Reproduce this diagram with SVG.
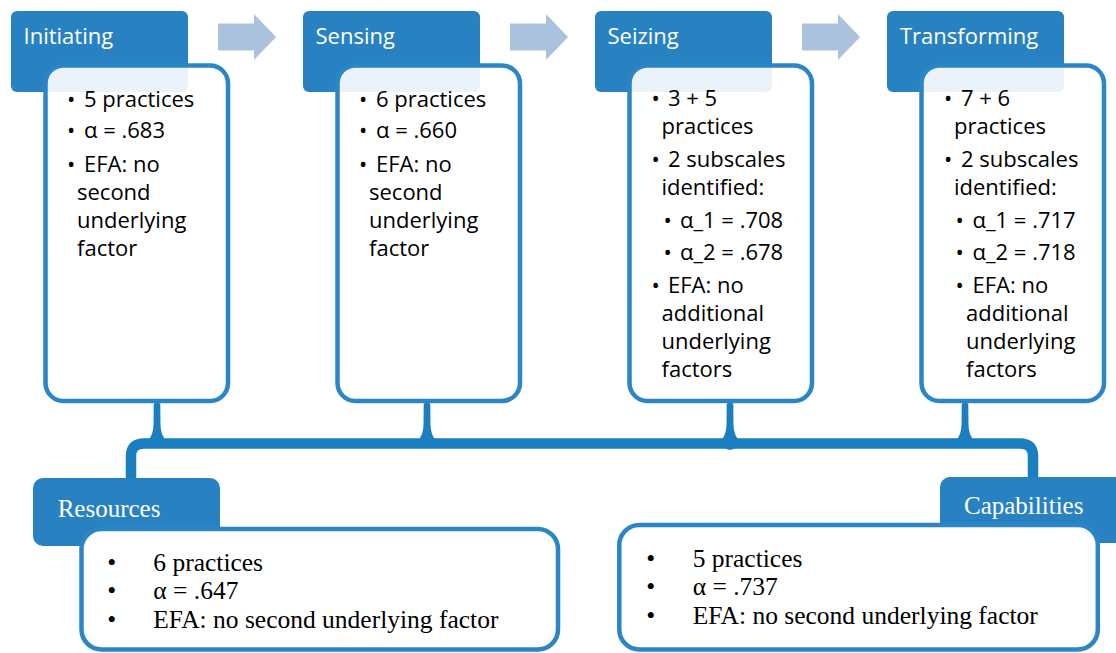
<svg xmlns="http://www.w3.org/2000/svg" width="1116" height="653" viewBox="0 0 1116 653">
<defs>
<style>
.hdr{fill:#2882c2}
.body{fill:#ffffff;fill-opacity:0.9;stroke:#2a86c6;stroke-width:4.5}
.bodyb{fill:#ffffff;stroke:#2a86c6;stroke-width:4.5}
.arrow{fill:#abc2de}
.ht{font-family:"Open Sans","Noto Sans",sans-serif;font-size:22px;fill:#ffffff}
.bt{font-family:"Open Sans","Noto Sans",sans-serif;font-size:22px;fill:#000000}
.st{font-family:"Liberation Serif","Times New Roman",serif;font-size:25.5px;fill:#000000}
.sh{font-family:"Liberation Serif","Times New Roman",serif;font-size:25px;fill:#ffffff}
.br{fill:none;stroke:#1a7ec1;stroke-width:10.5}
.stem{fill:#1a7ec1}
</style>
</defs>

<g id="connectors">
  <path class="arrow" d="M218,23.5 H254 V14 L276,37 L254,60 V50.5 H218 Z"/>
  <path class="arrow" d="M510,23.5 H546 V14 L568,37 L546,60 V50.5 H510 Z"/>
  <path class="arrow" d="M802,23.5 H838 V14 L860,37 L838,60 V50.5 H802 Z"/>
  <path class="br" d="M131,482 V456 Q131,443.5 144,443.5 H1020 Q1033,443.5 1033,456 V482"/>
  <path class="stem" d="M153.7,404 Q157,400 160.3,404 L160.5,425 Q161,436 166,440 L148,440 Q153,436 153.5,425 Z"/>
  <path class="stem" d="M423.7,404 Q427,400 430.3,404 L430.5,425 Q431,436 436,440 L418,440 Q423,436 423.5,425 Z"/>
  <path class="stem" d="M726.7,404 Q730,400 733.3,404 L733.5,425 Q734,436 739,440 L721,440 Q726,436 726.5,425 Z"/>
  <path class="stem" d="M961.7,404 Q965,400 968.3,404 L968.5,425 Q969,436 974,440 L956,440 Q961,436 961.5,425 Z"/>
  <path class="stem" d="M724,447 Q730,453 736,447 Z"/>
</g>

<g id="node-initiating">
  <rect class="hdr" x="11" y="11" width="177" height="81" rx="6"/>
  <text class="ht" x="23.5" y="44">Initiating</text>
  <rect class="body" x="45.5" y="65.5" width="182.5" height="335.5" rx="18"/>
  <text class="bt" y="107"><tspan x="67">•</tspan><tspan x="84">5 practices</tspan></text>
  <text class="bt" y="138.3"><tspan x="67">•</tspan><tspan x="84">α = .683</tspan></text>
  <text class="bt" y="171.7"><tspan x="67">•</tspan><tspan x="84">EFA: no</tspan><tspan x="77" dy="28">second</tspan><tspan x="77" dy="28">underlying</tspan><tspan x="77" dy="28">factor</tspan></text>
</g>

<g id="node-sensing">
  <rect class="hdr" x="303" y="11" width="177" height="81" rx="6"/>
  <text class="ht" x="315.5" y="44">Sensing</text>
  <rect class="body" x="337.5" y="65.5" width="182.5" height="335.5" rx="18"/>
  <text class="bt" y="107"><tspan x="359">•</tspan><tspan x="376">6 practices</tspan></text>
  <text class="bt" y="138.3"><tspan x="359">•</tspan><tspan x="376">α = .660</tspan></text>
  <text class="bt" y="171.7"><tspan x="359">•</tspan><tspan x="376">EFA: no</tspan><tspan x="369" dy="28">second</tspan><tspan x="369" dy="28">underlying</tspan><tspan x="369" dy="28">factor</tspan></text>
</g>

<g id="node-seizing">
  <rect class="hdr" x="595" y="11" width="177" height="81" rx="6"/>
  <text class="ht" x="607.5" y="44">Seizing</text>
  <rect class="body" x="629.5" y="65.5" width="182.5" height="335.5" rx="18"/>
  <text class="bt" y="106"><tspan x="651.5">•</tspan><tspan x="668">3 + 5</tspan><tspan x="661.5" dy="28">practices</tspan></text>
  <text class="bt" y="166.5"><tspan x="651.5">•</tspan><tspan x="668">2 subscales</tspan><tspan x="661.5" dy="28">identified:</tspan></text>
  <text class="bt" y="227.7"><tspan x="663.5">•</tspan><tspan x="680">α_1 = .708</tspan></text>
  <text class="bt" y="260"><tspan x="663.5">•</tspan><tspan x="680">α_2 = .678</tspan></text>
  <text class="bt" y="292.5"><tspan x="651.5">•</tspan><tspan x="668">EFA: no</tspan><tspan x="661.5" dy="28">additional</tspan><tspan x="661.5" dy="28">underlying</tspan><tspan x="661.5" dy="28">factors</tspan></text>
</g>

<g id="node-transforming">
  <rect class="hdr" x="887" y="11" width="177" height="81" rx="6"/>
  <text class="ht" x="900" y="44">Transforming</text>
  <rect class="body" x="921.5" y="65.5" width="182.5" height="335.5" rx="18"/>
  <text class="bt" y="106"><tspan x="944">•</tspan><tspan x="961">7 + 6</tspan><tspan x="954" dy="28">practices</tspan></text>
  <text class="bt" y="166.5"><tspan x="944">•</tspan><tspan x="961">2 subscales</tspan><tspan x="954" dy="28">identified:</tspan></text>
  <text class="bt" y="227.7"><tspan x="955.5">•</tspan><tspan x="972.5">α_1 = .717</tspan></text>
  <text class="bt" y="260"><tspan x="955.5">•</tspan><tspan x="972.5">α_2 = .718</tspan></text>
  <text class="bt" y="292.5"><tspan x="955.5">•</tspan><tspan x="972.5">EFA: no</tspan><tspan x="966" dy="28">additional</tspan><tspan x="966" dy="28">underlying</tspan><tspan x="966" dy="28">factors</tspan></text>
</g>

<g id="node-resources">
  <rect class="hdr" x="33" y="478" width="187" height="68" rx="10"/>
  <text class="sh" x="57.7" y="516.7">Resources</text>
  <rect class="bodyb" x="81.5" y="529" width="476.5" height="120.5" rx="20"/>
  <text class="st" y="570.7"><tspan x="107.3">•</tspan><tspan x="153.3">6 practices</tspan></text>
  <text class="st" y="599"><tspan x="107.3">•</tspan><tspan x="153.3">α = .647</tspan></text>
  <text class="st" y="628.3"><tspan x="107.3">•</tspan><tspan x="153.3">EFA: no second underlying factor</tspan></text>
</g>

<g id="node-capabilities">
  <rect class="hdr" x="940" y="477" width="200" height="66" rx="10"/>
  <text class="sh" x="964" y="514">Capabilities</text>
  <rect class="bodyb" x="619.3" y="525" width="478.5" height="124.5" rx="20"/>
  <text class="st" y="566.7"><tspan x="646.3">•</tspan><tspan x="692.7">5 practices</tspan></text>
  <text class="st" y="595"><tspan x="646.3">•</tspan><tspan x="692.7">α = .737</tspan></text>
  <text class="st" y="624.3"><tspan x="646.3">•</tspan><tspan x="692.7">EFA: no second underlying factor</tspan></text>
</g>
</svg>
